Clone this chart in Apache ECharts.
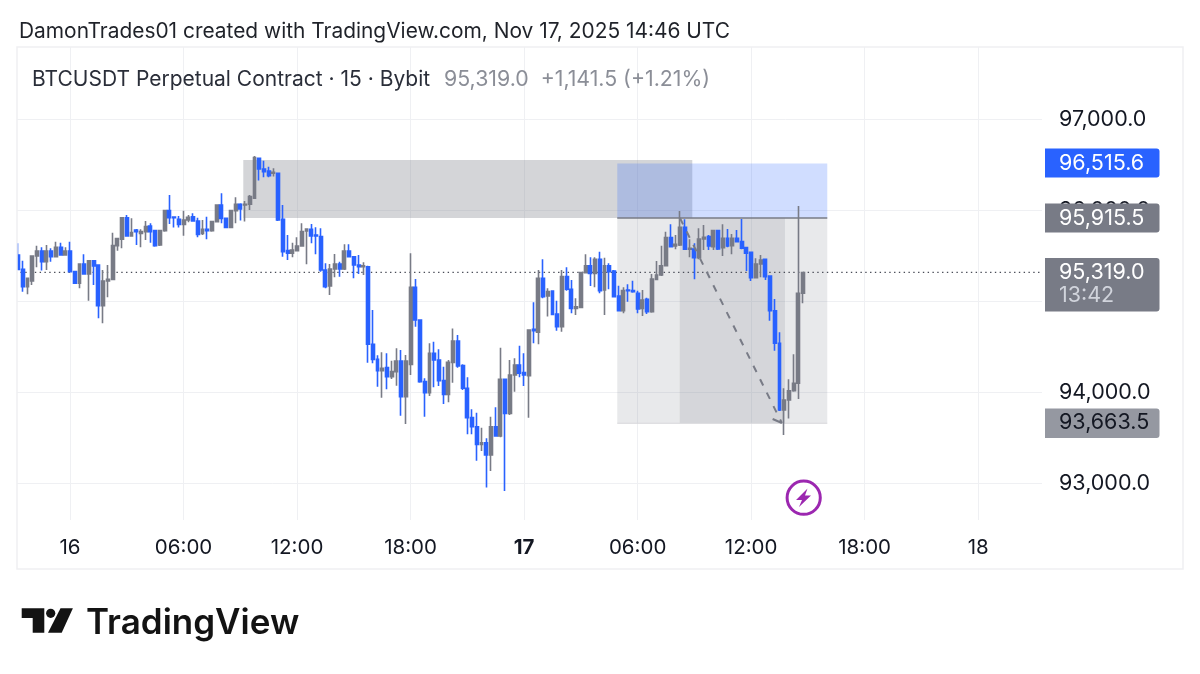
<!DOCTYPE html>
<html><head><meta charset="utf-8">
<style>html,body{margin:0;padding:0;background:#fff}#c{width:1200px;height:674px}</style>
<script src="https://cdn.jsdelivr.net/npm/echarts@6/dist/echarts.min.js"></script>
</head><body><div id="c"></div>
<script>
const opens=[95511,95353,95163,95225,95500,95555,95437,95555,95492,95595,95511,95555,95328,95200,95412,95302,95448,95401,94954,95225,95243,95613,95683,95920,95719,95785,95748,95767,95829,95778,95620,95778,95997,95928,95902,95847,95895,95931,95884,95748,95792,95778,95877,96059,95913,95814,95997,96067,96059,96067,96133,96572,96455,96433,96407,96407,95902,95558,95529,95558,95609,95774,95792,95730,95712,95346,95170,95357,95412,95357,95554,95492,95401,95382,95382,94530,94365,94241,94274,94175,94230,94347,93955,94310,95156,94797,94120,93999,94431,94358,94131,93981,94332,94566,94296,94047,93725,93626,93432,93450,93315,93626,93524,94146,93772,94193,94303,94219,94186,94694,94662,95254,95060,95115,94863,94724,95273,95134,94925,94936,95317,95393,95309,95463,95126,95393,95335,95060,94899,95126,95119,95090,94925,95024,94888,95243,95291,95393,95701,95609,95620,95814,95573,95576,95481,95686,95712,95602,95778,95591,95693,95613,95693,95657,95591,95540,95262,95412,95463,95280,94899,94541,93809,93919,94021,94102,95090];
const highs=[95639,95448,95255,95500,95613,95595,95620,95584,95657,95646,95595,95657,95335,95412,95518,95448,95456,95401,95346,95401,95756,95690,95920,95950,95913,95796,95792,95884,95858,95778,95785,95997,96169,95928,95939,95997,95950,95968,95920,95895,95931,95884,96059,96188,95913,95997,96144,96078,96103,96169,96597,96572,96546,96480,96462,96407,96059,95730,95646,95704,95858,95803,95851,95814,95803,95419,95412,95521,95437,95628,95628,95499,95510,95430,95393,94907,94409,94442,94431,94351,94486,94468,94413,95529,95247,94797,94157,94541,94559,94475,94285,94358,94705,94632,94310,94168,93816,93780,93615,93498,93736,93838,94493,94146,94358,94376,94515,94431,94694,94991,95346,95463,95145,95119,95009,95346,95375,95236,95035,95327,95518,95485,95485,95547,95481,95419,95346,95174,95156,95188,95229,95119,95126,95042,95302,95445,95613,95767,95847,95730,95993,95902,95682,95639,95803,95840,95730,95778,95778,95847,95796,95741,95785,95906,95602,95540,95474,95510,95463,95280,95027,94662,94047,94146,94420,96048,95319];
const lows=[95353,95108,95079,95181,95375,95339,95346,95437,95492,95503,95511,95320,95192,95145,95302,95009,95181,94815,94760,95046,95243,95558,95584,95712,95719,95620,95595,95675,95646,95602,95609,95767,95851,95811,95811,95723,95869,95877,95705,95730,95683,95767,95877,95858,95814,95814,95858,95888,95877,96005,96133,96327,96363,96363,96371,95884,95492,95456,95485,95558,95602,95408,95639,95518,95327,95145,95071,95265,95273,95346,95485,95254,95302,95291,94329,94321,94065,93944,94036,94149,94076,93747,93655,94193,94724,94109,93736,93963,94058,94072,93875,93893,94109,94274,94029,93542,93542,93253,93359,92957,93139,93516,93509,92920,93754,94010,94168,94072,93725,94541,94530,95035,94834,94852,94680,94669,95119,94870,94852,94925,95309,95170,95156,95090,94852,95134,95046,94896,94870,94998,95097,94870,94841,94863,94877,95236,95280,95393,95595,95573,95609,95565,95485,95243,95463,95565,95565,95565,95565,95499,95595,95518,95657,95573,95335,95225,95254,95265,95236,94790,94460,93798,93535,93717,94010,93930,94980];
const closes=[95353,95163,95255,95500,95555,95437,95555,95492,95595,95511,95555,95328,95200,95412,95302,95448,95390,94954,95225,95243,95613,95690,95920,95719,95756,95767,95767,95822,95767,95613,95778,95997,95920,95920,95847,95895,95924,95884,95737,95792,95778,95877,96059,95913,95814,95997,96067,96016,96067,96151,96579,96455,96425,96381,96418,95895,95547,95529,95565,95609,95767,95796,95719,95719,95346,95163,95357,95412,95357,95554,95492,95401,95382,95393,94530,94365,94241,94266,94175,94230,94347,93955,94347,95156,94797,94120,93999,94431,94358,94131,93981,94332,94566,94292,94047,93725,93626,93432,93450,93315,93626,93524,94146,93772,94193,94303,94212,94193,94687,94680,95254,95053,95108,94859,94724,95273,95134,94925,94943,95317,95393,95309,95463,95119,95393,95327,95053,94899,95119,95119,95108,94918,95017,94888,95247,95291,95393,95701,95602,95628,95814,95573,95584,95481,95686,95704,95609,95778,95576,95693,95609,95693,95657,95584,95529,95262,95412,95456,95273,94899,94541,93809,93919,94021,94102,95090,95319];

const startMinutes=21*60+15;
const bandCount=217;
const firstTickBand=11;
const tickStep=24;
const tickLabels=['16','06:00','12:00','18:00','17','06:00','12:00','18:00','18'];
const boldTicks=['17'];
const priceTicks=[93000,94000,95000,96000,97000];
const hiddenPriceLabels=[95000];
const lastPrice=95319;
const targetPrice=96515.6, entryPrice=95915.5, stopPrice=93663.5;
const supplyZone=[48.13,143.06,96553,95916];
const targetZone=[127.2,171.6,targetPrice,entryPrice];
const lowerZone=[127.2,171.6,entryPrice,stopPrice];
const innerZone=[140.4,162.65,entryPrice,stopPrice];
const pathBands=[140.45,162.0];
const pathPrices=[95916,93666];
const arrowLeft=[[160.05,93710],[162.0,93666]];
const headerText='DamonTrades01 created with TradingView.com, Nov 17, 2025 14:46 UTC';
const legendText='BTCUSDT Perpetual Contract · 15 · Bybit';
const legendValues='95,319.0  +1,141.5 (+1.21%)';
const tagTexts=['96,515.6','95,915.5','95,319.0','13:42','93,663.5'];

const categories=Array.from({length:bandCount},(_,i)=>{
  const m=startMinutes+i*15;const h=Math.floor(m/60)%24;const n=m%60;
  return String(h).padStart(2,'0')+':'+String(n).padStart(2,'0')+'#'+i;
});
const isTick=i=>(i-firstTickBand)%tickStep===0&&i>=firstTickBand;
const FONT='Inter';
const GRID='#eff0f3', BLUE='#2962ff', GRAY='#787b86';
const zoneRows=[
 {z:supplyZone,c:'rgba(120,123,134,.32)'},
 {z:lowerZone,c:'rgba(120,123,134,.17)'},
 {z:innerZone,c:'rgba(120,123,134,.17)'},
 {z:targetZone,c:'rgba(41,98,255,.22)'}
];
const chart=echarts.init(document.getElementById('c'),null,{renderer:'canvas'});
function tag(x,y,w,h,fill){return {type:'rect',z:50,shape:{x,y,width:w,height:h,r:[0,3,3,0]},style:{fill}};}
function txt(x,y,t,size,fill,extra){return {type:'text',z:60,x,y,style:Object.assign({text:t,fill,font:`${size}px ${FONT}`,textVerticalAlign:'middle',textBaseline:'middle'},extra||{})};}
chart.setOption({
 animation:false,
 backgroundColor:'#fff',
 grid:{left:15.65,right:158,top:47,bottom:154,containLabel:false},
 xAxis:[{
   type:'category',data:categories,boundaryGap:true,
   axisLine:{show:false},axisTick:{show:false},
   axisLabel:{interval:(i)=>isTick(i),margin:17,fontFamily:FONT,fontSize:20.5,color:'#131722',
     formatter:(v,i)=>{const t=tickLabels[(i-firstTickBand)/tickStep];return boldTicks.includes(t)?'{b|'+t+'}':t;},
     rich:{b:{fontFamily:FONT,fontSize:20.5,fontWeight:700,color:'#131722'}}},
   splitLine:{show:true,alignWithLabel:true,interval:(i)=>isTick(i),lineStyle:{color:GRID,width:1}}
 },{
   type:'value',min:0,max:bandCount,show:false,splitLine:{show:false}
 }],
 yAxis:{
   type:'value',position:'right',min:92601.6,max:97793.6,scale:true,
   axisLine:{show:false},
   axisTick:{show:false,customValues:priceTicks},
   axisLabel:{customValues:priceTicks,margin:17,fontFamily:FONT,fontSize:21.5,color:'#131722',
     formatter:v=>hiddenPriceLabels.includes(v)?'':v.toLocaleString('en-US',{minimumFractionDigits:1})},
   splitLine:{show:true,lineStyle:{color:GRID,width:1}}
 },
 series:[
  {type:'custom',xAxisIndex:1,z:1,silent:true,data:zoneRows.map((r,i)=>[...r.z,i]),
   encode:{x:[0,1],y:[2,3]},
   renderItem:(p,api)=>{
     const a=api.coord([api.value(0),api.value(2)]),b=api.coord([api.value(1),api.value(3)]);
     return {type:'rect',shape:{x:a[0],y:a[1],width:b[0]-a[0],height:b[1]-a[1]},style:{fill:zoneRows[api.value(4)].c}};
   }},
  {type:'line',xAxisIndex:1,z:2,symbol:'none',silent:true,data:[[targetZone[0],entryPrice],[targetZone[1],entryPrice]],lineStyle:{color:GRAY,width:1.5}},
  {type:'line',xAxisIndex:1,z:2,symbol:'none',silent:true,data:[[lowerZone[0],stopPrice],[lowerZone[1],stopPrice]],lineStyle:{color:'#d6d6da',width:1.2}},
  {type:'line',xAxisIndex:1,z:2,symbol:'none',silent:true,data:[[0,lastPrice],[bandCount,lastPrice]],lineStyle:{color:'#4a4d58',width:1.3,type:[1.4,3.4]}},
  {type:'candlestick',z:3,barWidth:3.4,silent:true,
   data:opens.map((o,i)=>[o,closes[i],lows[i],highs[i]]),
   itemStyle:{color:GRAY,color0:BLUE,borderColor:GRAY,borderColor0:BLUE,borderWidth:1.6}},
  {type:'line',xAxisIndex:1,z:4,symbol:'none',silent:true,data:pathBands.map((b,i)=>[b,pathPrices[i]]),lineStyle:{color:GRAY,width:2,type:[7,8]}},
  {type:'line',xAxisIndex:1,z:4,symbol:'none',silent:true,data:arrowLeft,lineStyle:{color:GRAY,width:2}}
 ],
 graphic:{elements:[
  {type:'rect',z:40,shape:{x:0,y:40,width:17,height:535},style:{fill:'#fff'}},
  {type:'rect',z:41,shape:{x:17,y:47,width:1166,height:522},style:{fill:'none',stroke:'#f0f0f2',lineWidth:1.5}},
  txt(19,32,headerText,20.9,'#1f2229'),
  txt(32,79.5,legendText,21,'#2a2e39'),
  txt(444,79.5,legendValues,21.3,'#8b8e97'),
  tag(1045,148.5,114.5,29,BLUE),
  tag(1045,203.5,114.5,29,GRAY),
  tag(1045,258,114.5,53.5,GRAY),
  tag(1045,408.5,114.5,29.5,'#9598a1'),
  txt(1059,163.5,tagTexts[0],21.5,'#fff'),
  txt(1059,218.5,tagTexts[1],21.5,'#fff'),
  txt(1059,272.5,tagTexts[2],21.5,'#fff'),
  txt(1059,296,tagTexts[3],21.5,'#d1d4dc'),
  txt(1059,423,tagTexts[4],21.5,'#131722'),
  {type:'circle',z:60,shape:{cx:803.7,cy:497.7,r:16.6},style:{fill:'#fff',stroke:'#9c27b0',lineWidth:3}},
  {type:'polygon',z:61,shape:{points:[[807.5,488.5],[796,500],[802,500],[799,507],[811,495.5],[805,495.5]]},style:{fill:'#9c27b0'}},
  {type:'polygon',z:60,shape:{points:[[21.7,608.3],[44.3,608.3],[44.3,632.7],[32.7,632.7],[32.7,618],[21.7,618]]},style:{fill:'#131313'}},
  {type:'circle',z:60,shape:{cx:50.7,cy:613.3,r:4.6},style:{fill:'#131313'}},
  {type:'polygon',z:60,shape:{points:[[60.5,608.3],[72.9,608.3],[61.7,632.7],[48,632.7]]},style:{fill:'#131313'}},
  {type:'text',z:60,x:86,y:623,style:{text:'TradingView',fill:'#131313',font:`600 35px ${FONT}`,textBaseline:'middle',textVerticalAlign:'middle'}}
 ]}
});
</script></body></html>
